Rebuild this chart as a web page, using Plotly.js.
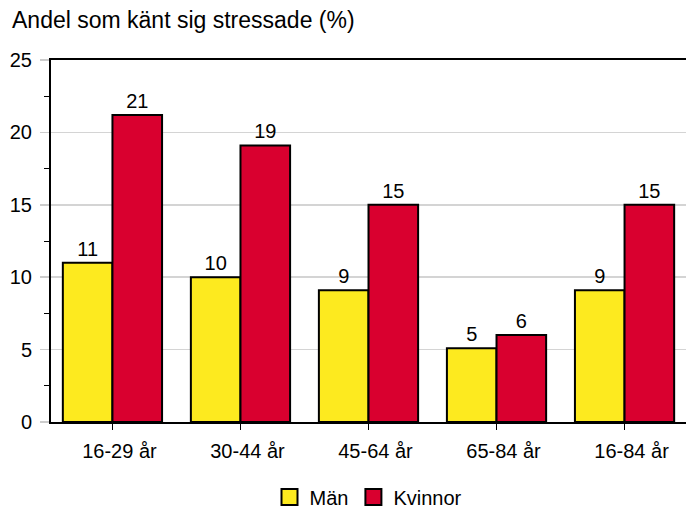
<!DOCTYPE html>
<html>
<head>
<meta charset="utf-8">
<script src="https://cdn.plot.ly/plotly-3.0.1.min.js"></script>
<style>html,body{margin:0;padding:0;background:#fff}#chart{width:686px;height:509px}</style>
</head>
<body>
<div id="chart"></div>
<script>
const categories = ["16-29 år", "30-44 år", "45-64 år", "65-84 år", "16-84 år"];
const seriesNames = ["Män", "Kvinnor"];
const menValues = [11, 10, 9.1, 5.1, 9.1];
const womenValues = [21.2, 19.1, 15, 6, 15];
const yTickVals = [0, 5, 10, 15, 20, 25];
const chartTitle = "Andel som känt sig stressade (%)";

const colors = ["#fdea1f", "#d9002f"];
const FONT = "Liberation Sans, Arial, Helvetica, sans-serif";
const idx = categories.map((c, i) => i);

function barTrace(vals, name, color) {
  return {
    type: "bar", x: idx, y: vals, name: name, showlegend: false,
    marker: {color: color, line: {color: "#000", width: 2}},
    text: vals.map(v => String(Math.round(v))),
    textposition: "outside", cliponaxis: false,
    textfont: {family: FONT, size: 20, color: "#000"},
    hoverinfo: "x+y"
  };
}
function legendTrace(name, color) {
  return {
    type: "scatter", mode: "markers", x: [null], y: [null], name: name,
    marker: {symbol: "square", size: 18, color: color, line: {color: "#000", width: 2}},
    showlegend: true, hoverinfo: "skip"
  };
}

const data = [
  barTrace(menValues, seriesNames[0], colors[0]),
  barTrace(womenValues, seriesNames[1], colors[1]),
  legendTrace(seriesNames[0], colors[0]),
  legendTrace(seriesNames[1], colors[1])
];

const layout = {
  width: 686, height: 509,
  margin: {l: 51, r: 0, t: 60, b: 87, autoexpand: false},
  paper_bgcolor: "#fff", plot_bgcolor: "#fff",
  font: {family: FONT, size: 20, color: "#000"},
  title: {text: chartTitle, x: 12/686, xref: "container", xanchor: "left",
          y: 1 - 20/509, yref: "container", yanchor: "middle",
          font: {family: FONT, size: 23, color: "#000"}},
  barmode: "group", bargap: 0.225, bargroupgap: 0,
  showlegend: true,
  legend: {orientation: "h", x: 0.5, xanchor: "center", y: -0.207, yanchor: "middle",
           font: {family: FONT, size: 20, color: "#000"}, itemwidth: 30, tracegroupgap: 0},
  xaxis: {
    range: [-0.48, 4.48], tickvals: idx, ticktext: categories,
    showline: true, linecolor: "#000", linewidth: 2, mirror: true,
    ticks: "outside", ticklen: 6, tickcolor: "#000", tickwidth: 1,
    ticklabelshift: 7, ticklabelstandoff: 4,
    showgrid: false, zeroline: false, fixedrange: true,
    tickfont: {family: FONT, size: 20, color: "#000"}
  },
  yaxis: {
    range: [0, 25], tickvals: yTickVals, ticktext: yTickVals.map(String),
    showline: true, linecolor: "#000", linewidth: 2,
    ticks: "outside", ticklen: 9, tickcolor: "#cccccc", tickwidth: 1.5,
    showgrid: true, gridcolor: "#d4d4d4", gridwidth: 1.5, zeroline: false,
    minor: {dtick: 2.5, tick0: 0, ticks: "outside", ticklen: 5, tickcolor: "#000", tickwidth: 1, showgrid: false},
    ticklabelstandoff: 4,
    tickfont: {family: FONT, size: 20, color: "#000"}, fixedrange: true
  }
};

Plotly.newPlot("chart", data, layout, {displayModeBar: false, staticPlot: true});
</script>
</body>
</html>
